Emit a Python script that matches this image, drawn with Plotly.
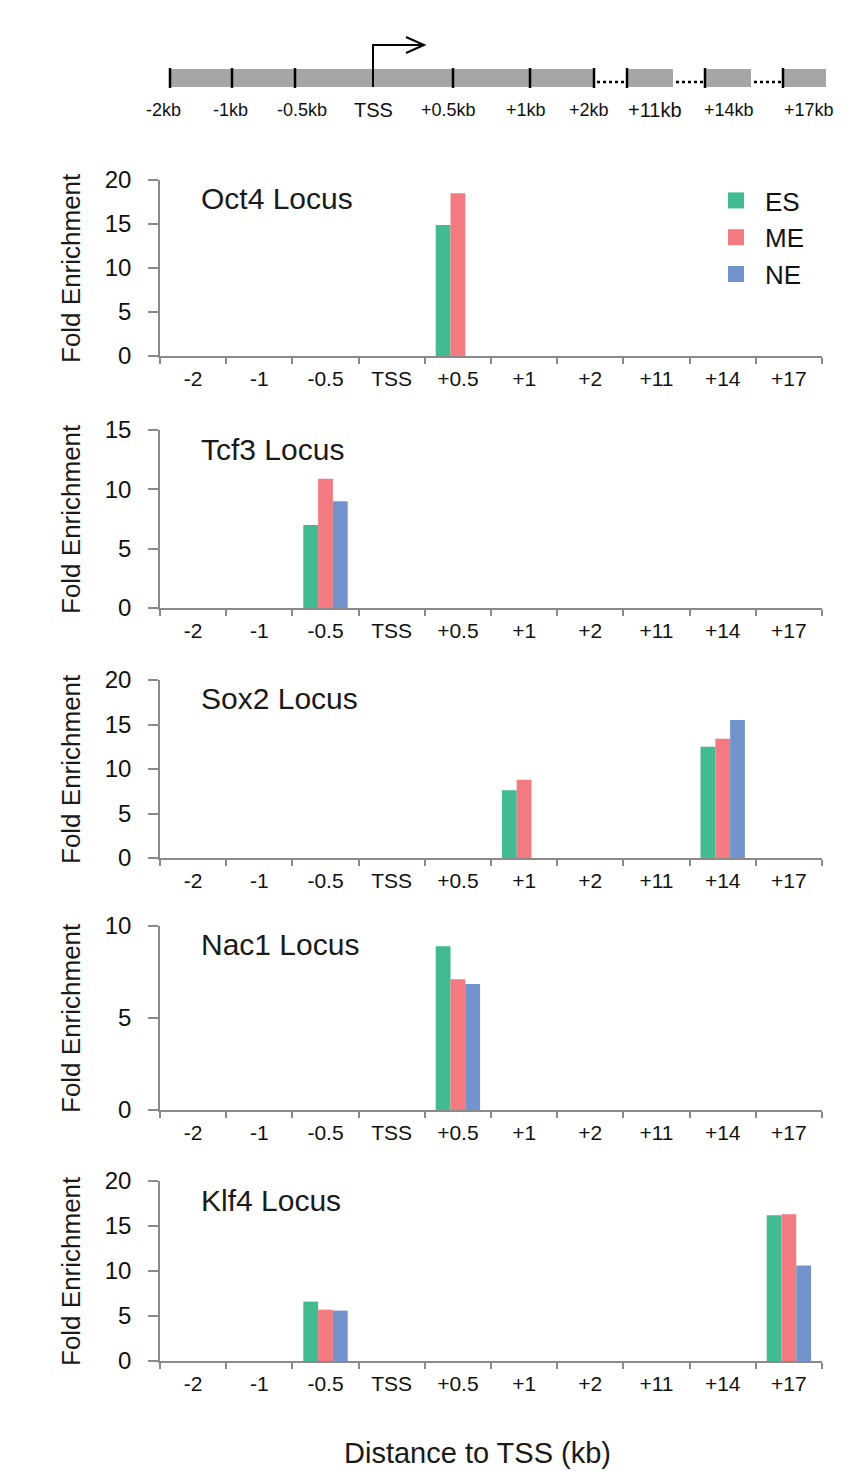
import plotly.graph_objects as go
from plotly.subplots import make_subplots

W, H = 848, 1471

# ---------------- data ----------------
categories = ["-2", "-1", "-0.5", "TSS", "+0.5", "+1", "+2", "+11", "+14", "+17"]
series_names = ["ES", "ME", "NE"]
series_colors = ["#41BB8F", "#F47A81", "#7393CC"]
loci = ["Oct4 Locus", "Tcf3 Locus", "Sox2 Locus", "Nac1 Locus", "Klf4 Locus"]

oct4_es = [0, 0, 0, 0, 14.9, 0, 0, 0, 0, 0]
oct4_me = [0, 0, 0, 0, 18.5, 0, 0, 0, 0, 0]
oct4_ne = [0, 0, 0, 0, 0, 0, 0, 0, 0, 0]

tcf3_es = [0, 0, 7.0, 0, 0, 0, 0, 0, 0, 0]
tcf3_me = [0, 0, 10.9, 0, 0, 0, 0, 0, 0, 0]
tcf3_ne = [0, 0, 9.0, 0, 0, 0, 0, 0, 0, 0]

sox2_es = [0, 0, 0, 0, 0, 7.6, 0, 0, 12.5, 0]
sox2_me = [0, 0, 0, 0, 0, 8.8, 0, 0, 13.4, 0]
sox2_ne = [0, 0, 0, 0, 0, 0, 0, 0, 15.5, 0]

nac1_es = [0, 0, 0, 0, 8.9, 0, 0, 0, 0, 0]
nac1_me = [0, 0, 0, 0, 7.1, 0, 0, 0, 0, 0]
nac1_ne = [0, 0, 0, 0, 6.85, 0, 0, 0, 0, 0]

klf4_es = [0, 0, 6.6, 0, 0, 0, 0, 0, 0, 16.2]
klf4_me = [0, 0, 5.7, 0, 0, 0, 0, 0, 0, 16.3]
klf4_ne = [0, 0, 5.6, 0, 0, 0, 0, 0, 0, 10.6]

y_max = [20, 15, 20, 10, 20]

schematic_labels = ["-2kb", "-1kb", "-0.5kb", "TSS", "+0.5kb", "+1kb", "+2kb", "+11kb", "+14kb", "+17kb"]

panel_data = [
    (oct4_es, oct4_me, oct4_ne),
    (tcf3_es, tcf3_me, tcf3_ne),
    (sox2_es, sox2_me, sox2_ne),
    (nac1_es, nac1_me, nac1_ne),
    (klf4_es, klf4_me, klf4_ne),
]

# ---------------- layout constants (pixels) ----------------
FONT = "Liberation Sans, Arial, sans-serif"
X_LEFT, X_RIGHT = 160, 822
panel_px = [(180, 356), (430, 608), (680, 858), (926, 1110), (1181, 1361)]
AXIS_COLOR = "#8a8a8a"


def px(x):
    return x / W


def py(y):
    return 1 - y / H


fig = make_subplots(rows=5, cols=1)

for i, (vals, (top, bot)) in enumerate(zip(panel_data, panel_px)):
    r = i + 1
    for name, color, v in zip(series_names, series_colors, vals):
        fig.add_trace(
            go.Bar(x=categories, y=v, name=name, marker_color=color,
                   marker_line_width=0, showlegend=False),
            row=r, col=1,
        )
    xa = "xaxis" if r == 1 else f"xaxis{r}"
    ya = "yaxis" if r == 1 else f"yaxis{r}"
    fig.layout[xa].update(
        domain=[px(X_LEFT), px(X_RIGHT)], automargin=False,
        type="category", categoryorder="array", categoryarray=categories,
        range=[-0.5, 9.5], tickson="boundaries",
        showline=True, linecolor=AXIS_COLOR, linewidth=1.5,
        ticks="outside", ticklen=6, tickwidth=1.5, tickcolor=AXIS_COLOR,
        tickfont=dict(family=FONT, size=21, color="#111"),
        ticklabelstandoff=3,
        showgrid=False, zeroline=False, fixedrange=True,
    )
    fig.layout[ya].update(
        domain=[py(bot), py(top)], automargin=False,
        range=[0, y_max[i]], dtick=5, tick0=0,
        showline=True, linecolor=AXIS_COLOR, linewidth=1.5,
        ticks="outside", ticklen=10, tickwidth=1.5, tickcolor=AXIS_COLOR,
        tickfont=dict(family=FONT, size=24, color="#111"),
        ticklabelstandoff=12,
        showgrid=False, zeroline=False, fixedrange=True,
    )
    xd = "x domain" if r == 1 else f"x{r} domain"
    yd = "y domain" if r == 1 else f"y{r} domain"
    fig.add_annotation(
        text=loci[i], xref=xd, yref=yd,
        x=(199 - X_LEFT) / (X_RIGHT - X_LEFT), xanchor="left",
        y=1 - 19 / (bot - top), yanchor="middle",
        showarrow=False, font=dict(family=FONT, size=30, color="#1a1a1a"),
    )
    fig.add_annotation(
        text="Fold Enrichment", xref="paper", yref=yd,
        x=px(71), y=0.5, xanchor="center", yanchor="middle", textangle=-90,
        showarrow=False, font=dict(family=FONT, size=26, color="#1a1a1a"),
    )

# legend entries
for name, color in zip(series_names, series_colors):
    fig.add_trace(
        go.Scatter(x=[None], y=[None], mode="markers", name=name,
                   marker=dict(symbol="square", size=16, color=color),
                   legendgroup=name, showlegend=True),
        row=1, col=1,
    )

# x axis title
fig.add_annotation(
    text="Distance to TSS (kb)", xref="paper", yref="paper",
    x=px(477), y=py(1453), xanchor="center", yanchor="middle",
    showarrow=False, font=dict(family=FONT, size=29, color="#1a1a1a"),
)

# ---------------- schematic at the top ----------------
shapes = []
BAR_TOP, BAR_BOT = 69, 87
GRAY = "#a6a6a6"
blocks = [(170, 594), (627, 673), (705, 751), (783, 826)]
for x0, x1 in blocks:
    shapes.append(dict(type="rect", xref="paper", yref="paper",
                       x0=px(x0), x1=px(x1), y0=py(BAR_BOT), y1=py(BAR_TOP),
                       fillcolor=GRAY, line=dict(width=0), layer="below"))
ticks_px = [170, 232, 295, 453, 530, 594, 627, 705, 783]
for tx in ticks_px:
    shapes.append(dict(type="line", xref="paper", yref="paper",
                       x0=px(tx), x1=px(tx), y0=py(BAR_BOT + 1), y1=py(BAR_TOP - 1),
                       line=dict(color="black", width=2.5)))
for x0, x1 in [(597, 625), (676, 703), (754, 781)]:
    shapes.append(dict(type="line", xref="paper", yref="paper",
                       x0=px(x0), x1=px(x1), y0=py(82), y1=py(82),
                       line=dict(color="black", width=2.5, dash="dot")))
# TSS arrow
shapes.append(dict(type="path", xref="paper", yref="paper",
                   path=f"M {px(373)},{py(BAR_BOT)} L {px(373)},{py(45)} L {px(423)},{py(45)}",
                   line=dict(color="black", width=2)))
shapes.append(dict(type="path", xref="paper", yref="paper",
                   path=f"M {px(406)},{py(37)} L {px(424)},{py(45)} L {px(406)},{py(53)}",
                   line=dict(color="black", width=2)))

label_x = [163, 231, 302, 373, 448, 526, 589, 655, 729, 809]
label_size = [18, 18, 18, 20, 18, 18, 18, 20, 18, 18]
for lab, lx, ls in zip(schematic_labels, label_x, label_size):
    fig.add_annotation(
        text=lab, xref="paper", yref="paper", x=px(lx), y=py(110),
        xanchor="center", yanchor="middle", showarrow=False,
        font=dict(family=FONT, size=ls, color="#111"),
    )

fig.update_layout(
    template="none",
    width=W, height=H, autosize=False,
    margin=dict(l=0, r=0, t=0, b=0, pad=0),
    paper_bgcolor="white", plot_bgcolor="white",
    barmode="group", bargap=0.33, bargroupgap=0,
    shapes=shapes,
    showlegend=True,
    legend=dict(
        x=px(707), y=py(177), xanchor="left", yanchor="top",
        font=dict(family=FONT, size=26, color="#111"),
        bgcolor="rgba(0,0,0,0)", tracegroupgap=0, itemwidth=48,
    ),
    font=dict(family=FONT),
)

fig.write_html("out.html")
